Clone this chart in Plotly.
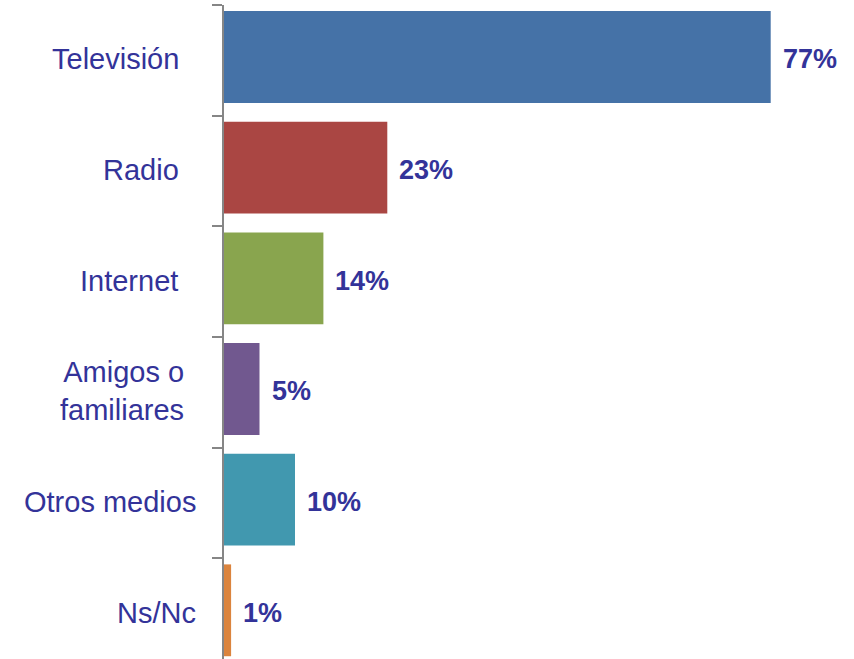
import plotly.graph_objects as go

categories = ["Televisión", "Radio", "Internet", "Amigos o<br>familiares", "Otros medios", "Ns/Nc"]
values = [77, 23, 14, 5, 10, 1]
value_labels = ["77%", "23%", "14%", "5%", "10%", "1%"]
colors = ["#4572A7", "#AA4643", "#89A54E", "#71588F", "#4198AF", "#DB843D"]
label_gaps = [43, 43, 44, 38, 26, 26]

text_color = "#333399"

fig = go.Figure()
fig.add_trace(go.Bar(
    y=categories,
    x=values,
    orientation="h",
    marker=dict(color=colors, line=dict(width=0)),
    width=0.83,
    offset=-0.445,
    hoverinfo="skip",
))

annotations = []
for cat, v, lab, gap in zip(categories, values, value_labels, label_gaps):
    annotations.append(dict(
        x=v, y=cat, xref="x", yref="y", text=lab, showarrow=False,
        xanchor="left", yanchor="middle", xshift=10, yshift=1,
        font=dict(family="Liberation Sans, Arial", size=27, color=text_color, weight="bold"),
    ))
    annotations.append(dict(
        x=0, y=cat, xref="paper", yref="y", text=cat, showarrow=False,
        xanchor="right", yanchor="middle", xshift=-gap, align="right", yshift=1,
        font=dict(family="Liberation Sans, Arial", size=29, color=text_color),
    ))

fig.update_layout(
    width=854, height=659,
    margin=dict(l=224, r=10, t=5, b=0),
    plot_bgcolor="white", paper_bgcolor="white",
    showlegend=False,
    annotations=annotations,
    xaxis=dict(range=[0, 620 / 7.1], visible=False, showgrid=False, zeroline=False),
    yaxis=dict(
        type="category",
        range=[5.41, -0.5],
        showticklabels=False,
        showgrid=False,
        zeroline=False,
        showline=True, linecolor="#868686", linewidth=2,
        ticks="outside", tickson="boundaries", ticklen=10, tickwidth=2, tickcolor="#868686",
    ),
)

fig.write_html(
    "out.html",
    config={"displayModeBar": False},
    post_script="document.body.style.margin='0';document.body.style.overflow='hidden';",
)
